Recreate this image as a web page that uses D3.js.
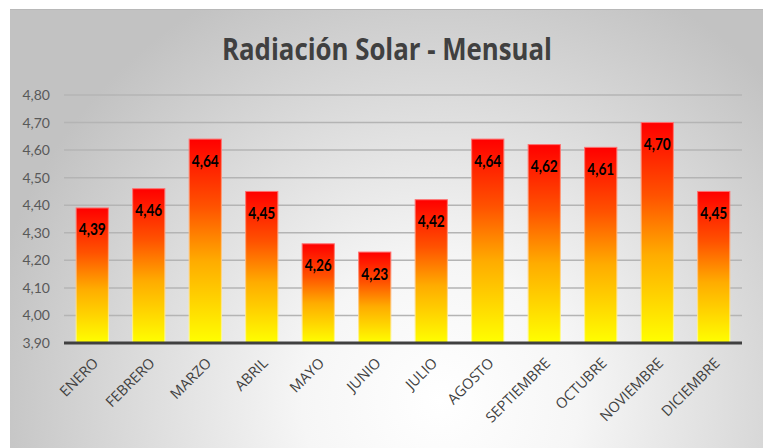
<!DOCTYPE html>
<html>
<head>
<meta charset="utf-8">
<script src="https://cdn.jsdelivr.net/npm/d3@7"></script>
<style>
  html, body { margin: 0; padding: 0; background: #fff; }
  svg { display: block; }
</style>
</head>
<body>
<svg id="chart" width="763" height="448"></svg>
<script>
// Monthly solar radiation
const months = ["ENERO", "FEBRERO", "MARZO", "ABRIL", "MAYO", "JUNIO", "JULIO",
                "AGOSTO", "SEPTIEMBRE", "OCTUBRE", "NOVIEMBRE", "DICIEMBRE"];
const radiation = [4.39, 4.46, 4.64, 4.45, 4.26, 4.23, 4.42, 4.64, 4.62, 4.61, 4.70, 4.45];
const yTicks = [3.9, 4.0, 4.1, 4.2, 4.3, 4.4, 4.5, 4.6, 4.7, 4.8];
const title = "Radiación Solar - Mensual";

const W = 763, H = 448;
const margin = { left: 64, right: 21, top: 95, bottom: 105 };
const svg = d3.select("#chart");
const defs = svg.append("defs");

// Card background: soft radial light
const bg = defs.append("radialGradient").attr("id", "bgGrad")
  .attr("gradientUnits", "userSpaceOnUse")
  .attr("cx", 440).attr("cy", 400).attr("r", 460);
bg.append("stop").attr("offset", 0).attr("stop-color", "#ffffff");
bg.append("stop").attr("offset", 0.3).attr("stop-color", "#f6f6f6");
bg.append("stop").attr("offset", 1).attr("stop-color", "#c2c2c2");

// Bar fill: red at the top fading to yellow at the base
const barGrad = defs.append("linearGradient").attr("id", "barGrad")
  .attr("x1", 0).attr("y1", 0).attr("x2", 0).attr("y2", 1);
[[0, "#ff0000"], [0.33, "#ff5200"], [0.6, "#ffac00"], [0.8, "#ffd500"], [1, "#ffff00"]]
  .forEach(([o, c]) => barGrad.append("stop").attr("offset", o).attr("stop-color", c));
const barStroke = defs.append("linearGradient").attr("id", "barStroke")
  .attr("x1", 0).attr("y1", 0).attr("x2", 0).attr("y2", 1);
[[0, "#ff7070"], [0.5, "#ffc080"], [1, "#ffff90"]]
  .forEach(([o, c]) => barStroke.append("stop").attr("offset", o).attr("stop-color", c));

svg.append("rect").attr("x", 10).attr("y", 9).attr("width", W - 10).attr("height", H - 9)
  .attr("fill", "url(#bgGrad)");
svg.append("line").attr("x1", 10).attr("x2", W).attr("y1", 9.5).attr("y2", 9.5)
  .attr("stroke", "#b8b8b8").attr("stroke-width", 1);

const x = d3.scaleBand().domain(months)
  .range([margin.left, W - margin.right]).paddingInner(0.43).paddingOuter(0.215);
const y = d3.scaleLinear().domain([3.9, 4.8]).range([H - margin.bottom, margin.top]);
const fmt = v => d3.format(".2f")(v).replace(".", ",");

// Gridlines
svg.append("g").selectAll("line").data(yTicks.slice(1)).join("line")
  .attr("x1", margin.left).attr("x2", W - margin.right)
  .attr("y1", d => y(d)).attr("y2", d => y(d))
  .attr("stroke", "#b4b4b4").attr("stroke-width", 1.5);

// Y axis labels
const yAxis = d3.axisLeft(y).tickValues(yTicks).tickFormat(fmt).tickSize(0).tickPadding(14);
const gy = svg.append("g").attr("transform", `translate(${margin.left},0)`).call(yAxis);
gy.select(".domain").remove();
gy.selectAll("text").attr("fill", "#595959")
  .style("font-family", "Lato, 'Open Sans', sans-serif").style("font-size", "14px");

// Bars
svg.append("g").selectAll("rect").data(radiation).join("rect")
  .attr("x", (d, i) => x(months[i]))
  .attr("width", x.bandwidth())
  .attr("y", d => y(d))
  .attr("height", d => y(3.9) - y(d))
  .attr("fill", "url(#barGrad)")
  .attr("stroke", "url(#barStroke)").attr("stroke-width", 1);

// Value labels inside the top of each bar
svg.append("g").selectAll("text").data(radiation).join("text")
  .attr("x", (d, i) => x(months[i]) + x.bandwidth() / 2)
  .attr("y", d => y(d) + 27.5)
  .attr("text-anchor", "middle")
  .attr("textLength", 27).attr("lengthAdjust", "spacingAndGlyphs")
  .style("font-family", "Lato, 'Open Sans', sans-serif")
  .style("font-weight", "bold").style("font-size", "17px")
  .attr("fill", "#000")
  .text(fmt);

// X axis
const xAxis = d3.axisBottom(x).tickSize(0).tickPadding(0);
const gx = svg.append("g").attr("transform", `translate(0,${y(3.9)})`).call(xAxis);
gx.select(".domain").attr("stroke", "#404040").attr("stroke-width", 3)
  .attr("d", `M${margin.left},0H${W - margin.right}`);
gx.selectAll("text")
  .attr("fill", "#404040")
  .style("font-family", "'Open Sans', sans-serif").style("font-size", "14.5px")
  .attr("text-anchor", "end")
  .attr("dy", null).attr("y", 0)
  .attr("transform", "translate(7,21) rotate(-45)");

// Title
svg.append("text")
  .attr("x", 387).attr("y", 60)
  .attr("text-anchor", "middle")
  .attr("textLength", 330).attr("lengthAdjust", "spacingAndGlyphs")
  .style("font-family", "'Open Sans', sans-serif")
  .style("font-weight", "bold").style("font-size", "30px")
  .attr("fill", "#404040")
  .text(title);
</script>
</body>
</html>
